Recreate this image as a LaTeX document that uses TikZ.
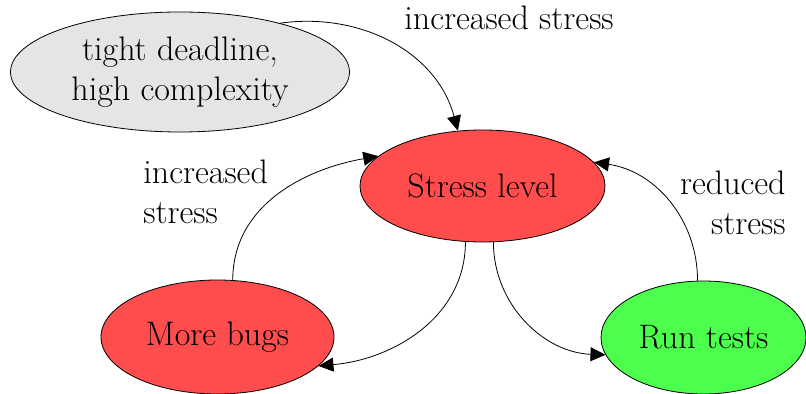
\documentclass[tikz,border=0pt]{standalone}
\usetikzlibrary{shapes.geometric,arrows.meta}
\begin{document}
\begin{tikzpicture}[x=0.5pt,y=-0.5pt,
  every node/.style={font=\fontsize{17}{20}\selectfont},
  state/.style={ellipse,draw,inner sep=0pt,align=center},
  hot/.style={state,fill=red!70},
  cool/.style={state,fill=green!70},
  cause/.style={state,fill=gray!20},
  lbl/.style={inner sep=0pt},
  flow/.style={-{Triangle[length=7.5pt,width=7pt]}}
]
\useasboundingbox (0,0) rectangle (806,394);

\node[cause,minimum width=169.5pt,minimum height=60pt] (deadline) at (180,72)
  {tight deadline,\\high complexity};
\node[hot,minimum width=122.5pt,minimum height=56pt] (stress) at (482.5,186) {Stress level};
\node[hot,minimum width=116.5pt,minimum height=57pt] (bugs) at (217.5,337) {More bugs};
\node[cool,minimum width=102.5pt,minimum height=56.5pt] (run) at (703.5,337.5) {Run tests};

\draw[flow] (deadline.26) to[out=8,in=105] (stress.114);
\draw[flow] (bugs.75) to[out=90,in=190] (stress.164);
\draw[flow] (stress.253) to[out=-90,in=5] (bugs.-16);
\draw[flow] (stress.-79) to[out=-90,in=178] (run.190);
\draw[flow] (run.96) to[out=90,in=-8] (stress.12);

\node[lbl,anchor=base west] (l1) at (404,30) {increased stress};
\node[lbl,anchor=north west,align=left] (l2) at (143,160) {increased\\stress};
\node[lbl,anchor=north east,align=right] (l3) at (786,171) {reduced\\stress};
\end{tikzpicture}
\end{document}
